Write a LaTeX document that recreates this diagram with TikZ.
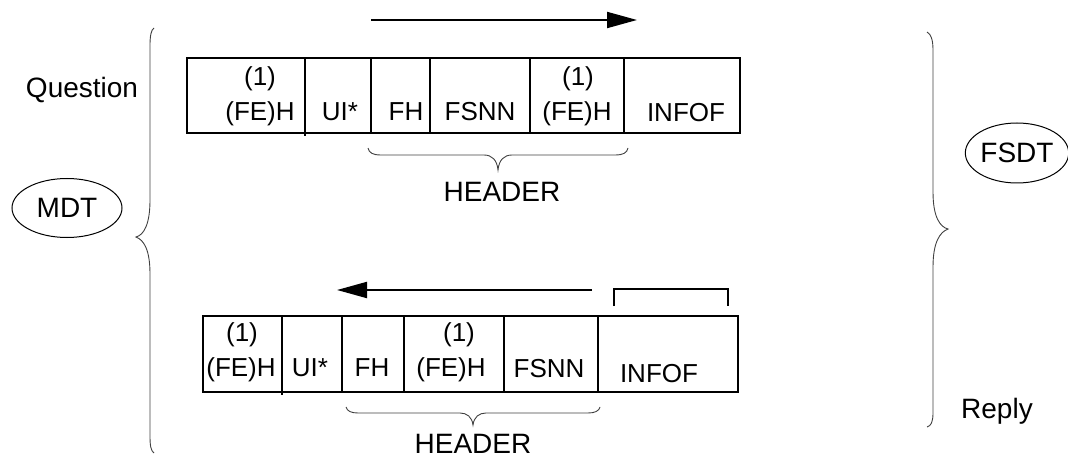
\documentclass[tikz,border=0pt]{standalone}
\usepackage{fontspec}
\setmainfont{Liberation Sans}
\usetikzlibrary{arrows.meta,shapes.geometric}
\begin{document}
\begin{tikzpicture}[x=1pt,y=-1pt,
  cell/.style={anchor=base,inner sep=0pt,font=\fontsize{26}{30}\selectfont},
  lbl/.style={anchor=base,inner sep=0pt,font=\fontsize{28}{32}\selectfont},
  frame/.style={line width=2pt},
  bracestroke/.style={line width=0.9pt,draw=black!75},
  oval/.style={ellipse,draw,line width=1pt,inner sep=0pt,font=\fontsize{28}{32}\selectfont},
  flow/.style={line width=2pt,-{Triangle[length=30pt,width=16pt]}},
]
\useasboundingbox (0,0) rectangle (1068,457);

% ---------- top (question) frame ----------
\draw[frame] (187,58) rectangle (740,133);
\foreach \x in {371,430,530,624} \draw[frame] (\x,58) -- (\x,133);
\draw[frame] (305,58) -- (305,136);
\node[cell] (t1a) at (260,86) {(1)};
\node[cell] (t1b) at (260,121) {(FE)H};
\node[cell] (t2) at (340,121) {UI*};
\node[cell] (t3) at (406,121) {FH};
\node[cell] (t4) at (480,121) {FSNN};
\node[cell] (t5a) at (578,86) {(1)};
\node[cell] (t5b) at (577,121) {(FE)H};
\node[cell] (t6) at (686,122) {INFOF};

% top arrow
\coordinate (qa) at (371,20);
\coordinate (qb) at (637,20);
\draw[flow] (qa) -- (qb);

% top header brace
\draw[bracestroke] (368,148) .. controls (369,153) and (373,155) .. (381,155)
  -- (484,155) .. controls (492,155) and (497,160) .. (498,170)
  .. controls (499,160) and (504,155) .. (512,155)
  -- (615,155) .. controls (623,155) and (627,153) .. (628,148);
\node[lbl] (h1) at (502,202) {HEADER};

% ---------- bottom (reply) frame ----------
\draw[frame] (203,316) rectangle (738,392);
\foreach \x in {342,404,504,598} \draw[frame] (\x,316) -- (\x,392);
\draw[frame] (282,316) -- (282,395);
\node[cell] (b1a) at (242,341) {(1)};
\node[cell] (b1b) at (241,376) {(FE)H};
\node[cell] (b2) at (310,376) {UI*};
\node[cell] (b3) at (372,376) {FH};
\node[cell] (b4a) at (459,341) {(1)};
\node[cell] (b4b) at (451,376) {(FE)H};
\node[cell] (b5) at (549,377) {FSNN};
\node[cell] (b6) at (659,382) {INFOF};

% bottom arrow
\coordinate (ra) at (592,290);
\coordinate (rb) at (337,290);
\draw[flow] (ra) -- (rb);

% bracket over INFOF
\draw[frame] (614,306) -- (614,289) -- (728,289) -- (728,306);

% bottom header brace
\draw[bracestroke] (346,407) .. controls (347,411) and (351,413) .. (358,413)
  -- (460,413) .. controls (467,413) and (472,417) .. (473,425)
  .. controls (474,417) and (479,413) .. (486,413)
  -- (588,413) .. controls (595,413) and (599,411) .. (600,407);
\node[lbl] (h2) at (473,453) {HEADER};

% ---------- big braces ----------
\draw[bracestroke] (154,28) .. controls (151,30) and (150,36) .. (150,46)
  -- (150,200) .. controls (150,224) and (144,235) .. (136,237)
  .. controls (144,240) and (150,250) .. (150,274)
  -- (150,436) .. controls (150,446) and (151,451) .. (154,453);

\draw[bracestroke] (927,32) .. controls (931,34) and (933,40) .. (933,50)
  -- (933,192) .. controls (933,217) and (940,227) .. (948,229)
  .. controls (940,232) and (933,242) .. (933,267)
  -- (933,413) .. controls (933,422) and (931,426) .. (927,427);

% ---------- labels ----------
\node[lbl] (question) at (82,98) {Question};
\node[lbl,anchor=base west] (reply) at (961,418) {Reply};
\node[oval,minimum width=110pt,minimum height=59pt] (mdt) at (67,208) {MDT};
\node[oval,minimum width=101pt,minimum height=60pt] (fsdt) at (1017,153) {FSDT};
\end{tikzpicture}
\end{document}
